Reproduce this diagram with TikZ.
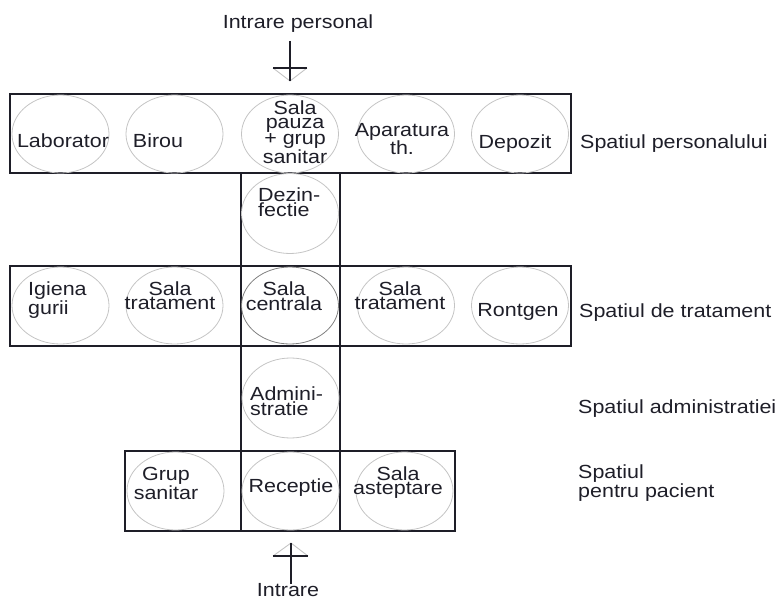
\documentclass[tikz,border=0pt]{standalone}
\usepackage{fontspec}
\setmainfont{Liberation Sans}[FakeStretch=1.13]
\usetikzlibrary{shapes.geometric}
\definecolor{ink}{HTML}{1E1E28}
\definecolor{ring}{HTML}{C4C4C4}
\definecolor{ringdark}{HTML}{808080}
\tikzset{
  room/.style={draw=ring, line width=0.8pt, ellipse, minimum width=97pt, minimum height=78pt, inner sep=0pt},
  lbl/.style={text=ink, font=\fontsize{19}{13.7}\selectfont, inner sep=0pt, align=center},
  lbll/.style={lbl, align=left},
  wall/.style={draw=ink, line width=1.4pt},
  zone/.style={wall, rectangle, inner sep=0pt},
  entry/.style={draw=ink, line width=1.2pt},
  entrytri/.style={draw=ring, line width=0.9pt},
}
\begin{document}
\begin{tikzpicture}[x=1pt, y=-1pt]
\useasboundingbox (0,0) rectangle (776,599);

% zone rectangles
\node[zone, minimum width=561pt, minimum height=79pt] (pers) at (290.5,133.5) {};
\node[zone, minimum width=561pt, minimum height=80pt] (trat) at (290.5,306) {};
\node[zone, minimum width=330pt, minimum height=80pt] (pac) at (290,491) {};
% central corridor
\coordinate (cL1) at (241,173); \coordinate (cL2) at (241,531);
\coordinate (cR1) at (340,173); \coordinate (cR2) at (340,531);
\draw[wall] (cL1) -- (cL2);
\draw[wall] (cR1) -- (cR2);

% rooms: top row
\node[room] (lab) at (60.5,134) {};
\node[room] (bir) at (174.5,134) {};
\node[room] (pauza) at (290,134) {};
\node[room] (apar) at (406,134) {};
\node[room] (dep) at (520,134) {};
% corridor rooms
\node[room, minimum height=80pt] (dez) at (290,213.5) {};
% middle row
\node[room, minimum height=77pt] (igi) at (60.5,305.5) {};
\node[room, minimum height=77pt] (trat1) at (174.5,305.5) {};
\node[room, minimum height=77pt, draw=ringdark] (centr) at (290,305.5) {};
\node[room, minimum height=77pt] (trat2) at (406,305.5) {};
\node[room, minimum height=77pt] (ront) at (520,305.5) {};
\node[room, minimum height=80pt] (adm) at (290.5,398) {};
% bottom row
\node[room] (grup) at (175.5,491) {};
\node[room] (rec) at (290.5,491) {};
\node[room] (ast) at (404.5,491) {};

% room labels
\node[lbl, anchor=base] (labT) at (63,147) {Laborator};
\node[lbl, anchor=base] (birT) at (158,147) {Birou};
\node[lbl, anchor=north] (pauzaT) at (295,101) {Sala\\pauza\\+ grup\\sanitar};
\node[lbl, anchor=north] (aparT) at (402,123) {Aparatura\\th.};
\node[lbl, anchor=base] (depT) at (515,148) {Depozit};
\node[lbll, anchor=north west] (dezT) at (258,188) {Dezin-\\fectie};
\node[lbll, anchor=north west] (igiT) at (28,282) {Igiena\\gurii};
\node[lbl, anchor=north] (trat1T) at (170,282) {Sala\\tratament};
\node[lbl, anchor=north] (centrT) at (284,282) {Sala\\centrala};
\node[lbl, anchor=north] (trat2T) at (400,282) {Sala\\tratament};
\node[lbl, anchor=base] (rontT) at (518,316) {Rontgen};
\node[lbll, anchor=north west] (admT) at (250,387) {Admini-\\stratie};
\node[lbl, anchor=north] (grupT) at (166,467) {Grup\\sanitar};
\node[lbl, anchor=base] (recT) at (291,492) {Receptie};
\node[lbl, anchor=north] (astT) at (398,467) {Sala\\asteptare};

% zone labels
\node[lbl, anchor=base west] (zPers) at (580,148) {Spatiul personalului};
\node[lbl, anchor=base west] (zTrat) at (579,317) {Spatiul de tratament};
\node[lbl, anchor=base west] (zAdm) at (578,413) {Spatiul administratiei};
\node[lbll, anchor=north west] (zPac) at (578,465) {Spatiul\\pentru pacient};

% staff entrance
\node[lbl, anchor=base] (inPT) at (298,29) {Intrare personal};
\coordinate (inP1) at (290,41);
\coordinate (inP2) at (290,81);
\coordinate (inPa) at (273,68);
\coordinate (inPb) at (307,68);
\draw[entrytri] (inPa) -- (inP2) -- (inPb);
\draw[entry] (inP1) -- (inP2);
\draw[entry] (inPa) -- (inPb);

% patient entrance
\node[lbl, anchor=base] (inT) at (288,596) {Intrare};
\coordinate (in1) at (291,584);
\coordinate (in2) at (291,543);
\coordinate (ina) at (273,556);
\coordinate (inb) at (308,556);
\draw[entrytri] (ina) -- (in2) -- (inb);
\draw[entry] (in1) -- (in2);
\draw[entry] (ina) -- (inb);
\end{tikzpicture}
\end{document}
